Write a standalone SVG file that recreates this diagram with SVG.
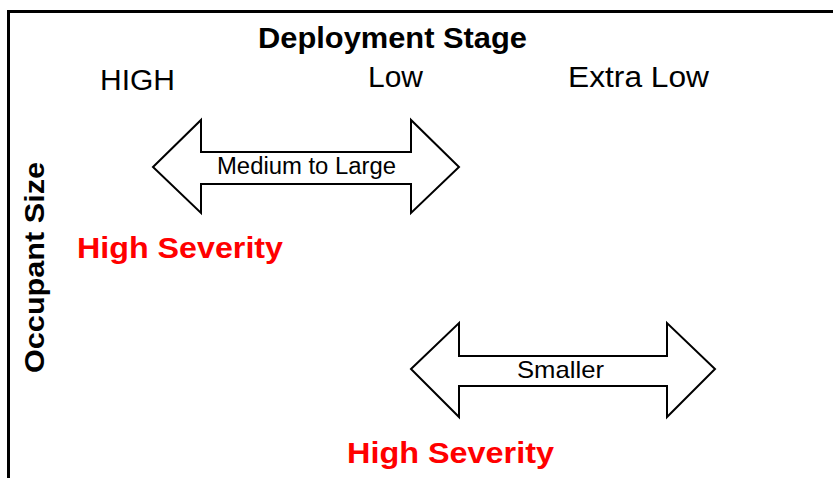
<svg xmlns="http://www.w3.org/2000/svg" width="833" height="478" viewBox="0 0 833 478">
<style>
.frame{fill:none;stroke:#000;stroke-width:3}
.arrow{fill:#fff;stroke:#000;stroke-width:2;stroke-linejoin:miter}
.t{font-family:"Liberation Sans",Arial,sans-serif;fill:#000}
.b{font-weight:bold}
.red{fill:#ff0000;font-weight:bold}
</style>
<rect width="833" height="478" fill="#fff"/>
<g id="frame">
<path class="frame" d="M8.5,478 V11.5 H833"/>
</g>
<g id="headers">
<text class="t b" x="258" y="48" font-size="29" textLength="269" lengthAdjust="spacingAndGlyphs">Deployment Stage</text>
<text class="t" x="100" y="90" font-size="30" textLength="75" lengthAdjust="spacingAndGlyphs">HIGH</text>
<text class="t" x="368" y="87" font-size="30" textLength="55" lengthAdjust="spacingAndGlyphs">Low</text>
<text class="t" x="568" y="87" font-size="30" textLength="141" lengthAdjust="spacingAndGlyphs">Extra Low</text>
<text class="t b" transform="translate(44,267.5) rotate(-90)" x="0" y="0" font-size="28" text-anchor="middle" textLength="211" lengthAdjust="spacingAndGlyphs">Occupant Size</text>
</g>
<g id="arrow-medium">
<path class="arrow" d="M153,167 L201,120 V152 H411 V120 L459,167 L411,213 V184 H201 V213 Z"/>
<text class="t" x="217" y="174" font-size="23" textLength="179" lengthAdjust="spacingAndGlyphs">Medium to Large</text>
</g>
<g id="arrow-smaller">
<path class="arrow" d="M411,369 L459,323 V356 H667 V323 L715,369 L667,417 V386 H459 V417 Z"/>
<text class="t" x="517" y="378" font-size="24" textLength="87" lengthAdjust="spacingAndGlyphs">Smaller</text>
</g>
<g id="severity-1">
<text class="t red" x="77" y="258" font-size="29" textLength="206" lengthAdjust="spacingAndGlyphs">High Severity</text>
</g>
<g id="severity-2">
<text class="t red" x="347" y="463" font-size="29" textLength="207" lengthAdjust="spacingAndGlyphs">High Severity</text>
</g>
</svg>
